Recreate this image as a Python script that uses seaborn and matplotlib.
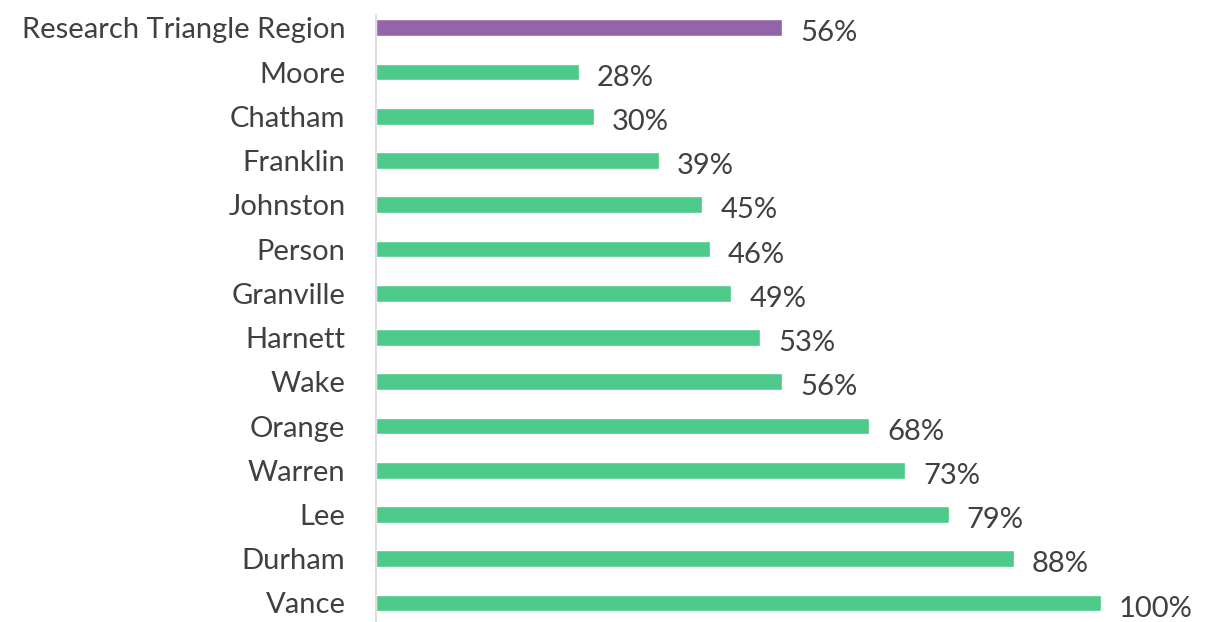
import matplotlib
matplotlib.use("Agg")
import matplotlib.pyplot as plt
import seaborn as sns
import pandas as pd

# data
regions = ['Research Triangle Region', 'Moore', 'Chatham', 'Franklin', 'Johnston',
           'Person', 'Granville', 'Harnett', 'Wake', 'Orange', 'Warren', 'Lee',
           'Durham', 'Vance']
values = [56, 28, 30, 39, 45, 46, 49, 53, 56, 68, 73, 79, 88, 100]
groups = ['region'] + ['county'] * 13

df = pd.DataFrame({'name': regions, 'pct': values, 'group': groups})

sns.set_style('white')
plt.rcParams['font.family'] = ['Lato', 'DejaVu Sans']
text_col = '#404040'

fig = plt.figure(figsize=(12.12, 6.22), dpi=100)
ax = fig.add_axes([376 / 1212, 0, 836 / 1212, 607 / 622])

sns.barplot(data=df, y='name', x='pct', hue='group', orient='h',
            palette={'region': '#9563A8', 'county': '#4DC98A'},
            saturation=1, width=0.38, dodge=False, legend=False, ax=ax)

ax.set_xlim(0, 100 * 836 / 725)
ax.set_ylim(13.43, -0.29)

for i, v in enumerate(values):
    ax.annotate(f'{v}%', (v, i), xytext=(13, -4), textcoords='offset points',
                ha='left', va='center', fontsize=21, color=text_col, clip_on=False)

sns.despine(ax=ax, top=True, right=True, bottom=True, left=False)
ax.spines['left'].set_color('#D9D9D9')
ax.spines['left'].set_linewidth(1.2)
ax.set_xticks([])
ax.set_xlabel('')
ax.set_ylabel('')
ax.tick_params(axis='y', length=0, pad=22, labelsize=21, labelcolor=text_col)

fig.savefig('out.png', dpi=100, facecolor='white')
